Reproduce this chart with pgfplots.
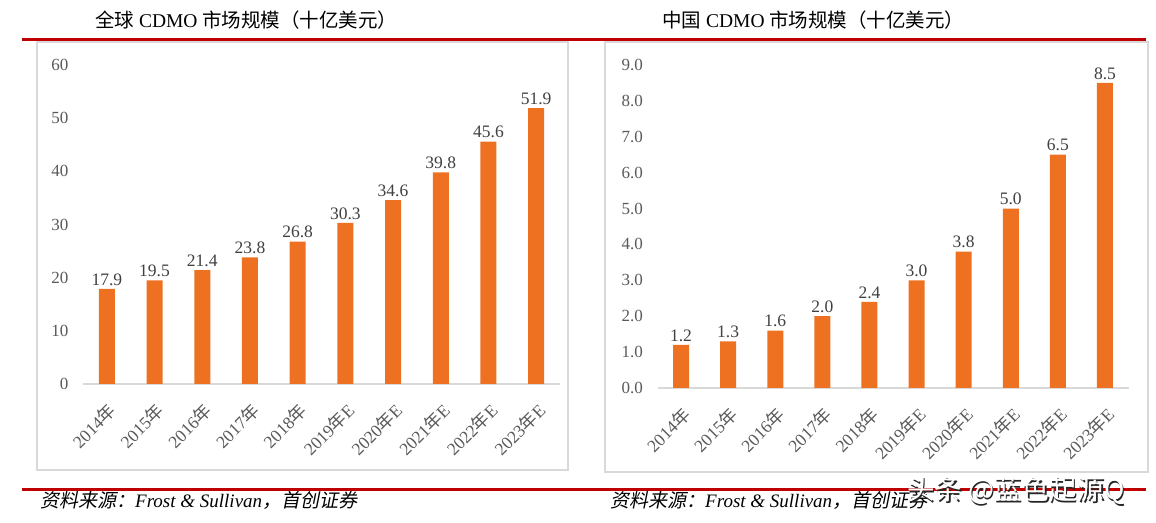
\documentclass[border=0pt]{standalone}
\usepackage{fontspec}
\setmainfont{Liberation Serif}
\newfontfamily\cjk{Noto Sans CJK SC}
\newfontfamily\cjksl[FakeSlant=0.2]{Noto Sans CJK SC}
\usepackage{pgfplots}
\pgfplotsset{compat=1.18}
\definecolor{barorange}{RGB}{237,113,33}
\definecolor{tickgray}{RGB}{89,89,89}
\definecolor{valgray}{RGB}{64,64,64}
\definecolor{boxgray}{RGB}{217,217,217}
\definecolor{redline}{RGB}{192,0,0}
\pgfplotsset{
  mybar/.style={
    scale only axis,
    anchor=south west,
    axis x line*=bottom,
    axis y line*=left,
    y axis line style={draw=none},
    x axis line style={draw=boxgray, line width=1.8pt},
    xtick style={draw=none},
    ytick style={draw=none},
    xmin=-0.5, xmax=9.5,
    ymin=0,
    xtick={0,...,9},
    xticklabels={2014{\cjk 年},2015{\cjk 年},2016{\cjk 年},2017{\cjk 年},2018{\cjk 年},2019{\cjk 年}E,2020{\cjk 年}E,2021{\cjk 年}E,2022{\cjk 年}E,2023{\cjk 年}E},
    xticklabel style={rotate=45, anchor=north east, font=\fontsize{17.5}{20}\selectfont, text=tickgray, xshift=-6pt, yshift=-6pt},
    yticklabel style={font=\fontsize{17}{20}\selectfont, text=tickgray, xshift=-11pt},
    /pgf/number format/assume math mode=true,
    ybar, bar width=16pt,
    nodes near coords,
    every node near coord/.append style={font=\fontsize{17.5}{20}\selectfont, text=valgray},
  }
}
\begin{document}
\begin{tikzpicture}
\path (0pt,0pt) rectangle (1156pt,522pt);
% boxes
\draw[boxgray, line width=2pt] (37pt,480pt) rectangle (568pt,52pt);
\draw[boxgray, line width=2pt] (605pt,480pt) rectangle (1148pt,50pt);
% red lines
\draw[redline, line width=3pt] (22pt,482pt) -- (1146pt,482pt);
\draw[redline, line width=3pt] (22pt,33pt) -- (1146pt,33pt);
% titles
\node[anchor=base west, inner sep=0pt, font=\fontsize{19.5}{23}\selectfont] at (95pt,494pt) {{\cjk 全球} CDMO {\cjk 市场规模（十亿美元）}};
\node[anchor=base west, inner sep=0pt, font=\fontsize{19.5}{23}\selectfont] at (662pt,494pt) {{\cjk 中国} CDMO {\cjk 市场规模（十亿美元）}};
% sources
\node[anchor=base west, inner sep=0pt, font=\fontsize{19}{22}\selectfont] at (40pt,15pt) {{\cjksl 资料来源：}\textit{Frost \& Sullivan}{\cjksl ，首创证券}};
\node[anchor=base west, inner sep=0pt, font=\fontsize{19}{22}\selectfont] at (610pt,15pt) {{\cjksl 资料来源：}\textit{Frost \& Sullivan}{\cjksl ，首创证券}};

\begin{axis}[mybar, at={(83pt,138pt)}, width=477pt, height=319pt, ymax=60, ytick={0,10,...,60},
  nodes near coords style={/pgf/number format/.cd, fixed, fixed zerofill, precision=1}]
\addplot[fill=barorange, draw=none] coordinates {(0,17.9) (1,19.5) (2,21.4) (3,23.8) (4,26.8) (5,30.3) (6,34.6) (7,39.8) (8,45.6) (9,51.9)};
\end{axis}

\begin{axis}[mybar, at={(657.5pt,134pt)}, width=471pt, height=323pt, ymax=9, ytick={0,1,...,9},
  yticklabel style={/pgf/number format/.cd, fixed, fixed zerofill, precision=1},
  nodes near coords style={/pgf/number format/.cd, fixed, fixed zerofill, precision=1}]
\addplot[fill=barorange, draw=none] coordinates {(0,1.2) (1,1.3) (2,1.6) (3,2.0) (4,2.4) (5,3.0) (6,3.8) (7,5.0) (8,6.5) (9,8.5)};
\end{axis}

% watermark
\node[anchor=base west, inner sep=0pt, font=\cjk\fontsize{27.5}{32}\selectfont, text=black!85] at (908.5pt,21pt) {头条 @蓝色起源Q};
\node[anchor=base west, inner sep=0pt, font=\cjk\fontsize{27.5}{32}\selectfont, text=white] at (907pt,22.5pt) {头条 @蓝色起源Q};
\end{tikzpicture}
\end{document}
